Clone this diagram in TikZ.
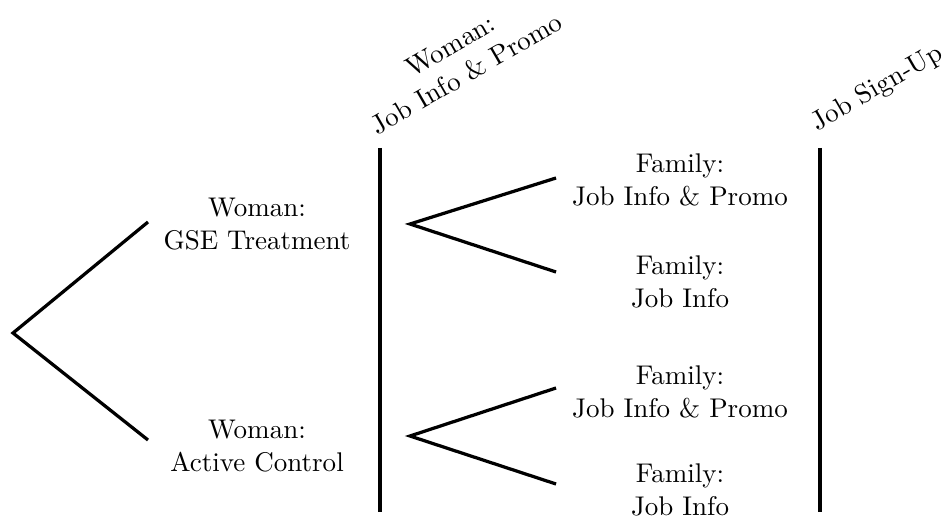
\documentclass[tikz,border=0pt]{standalone}
\usepackage{tikz}
\usetikzlibrary{positioning}

\begin{document}
\begin{tikzpicture}[
  x=0.37pt, y=-0.37pt,
  branch/.style = {very thick},
  stage/.style  = {very thick},
  lbl/.style    = {align=center, inner sep=2pt},
  head/.style   = {align=center, rotate=30, anchor=south west, inner sep=2pt}
]
\useasboundingbox (0,0) rectangle (948,525);

% -- first split: woman ------------------------------------
\coordinate (root) at (13,333);
\coordinate (gse)  at (148,222);
\coordinate (ctl)  at (148,440);
\draw[branch] (gse) -- (root) -- (ctl);
\node[lbl] (gseL) at (257,224) {Woman:\\GSE Treatment};
\node[lbl] (ctlL) at (257,446) {Woman:\\Active Control};

% -- stage line 1 -------------------------------------------
\coordinate (s1top) at (380,148);
\coordinate (s1bot) at (380,512);
\draw[stage] (s1top) -- (s1bot);
\node[head] (s1L) at (376,144) {Woman:\\Job Info \& Promo};

% -- second split: family -----------------------------------
\coordinate (r1)  at (410,224);
\coordinate (r1a) at (556,178);
\coordinate (r1b) at (556,272);
\draw[branch] (r1a) -- (r1) -- (r1b);
\coordinate (r2)  at (410,436);
\coordinate (r2a) at (556,388);
\coordinate (r2b) at (556,484);
\draw[branch] (r2a) -- (r2) -- (r2b);

\node[lbl] (f1) at (680,180) {Family:\\Job Info \& Promo};
\node[lbl] (f2) at (680,282) {Family:\\Job Info};
\node[lbl] (f3) at (680,392) {Family:\\Job Info \& Promo};
\node[lbl] (f4) at (680,490) {Family:\\Job Info};

% -- stage line 2 -------------------------------------------
\coordinate (s2top) at (820,148);
\coordinate (s2bot) at (820,512);
\draw[stage] (s2top) -- (s2bot);
\node[head] (s2L) at (818,144) {Job Sign-Up};

\end{tikzpicture}
\end{document}
